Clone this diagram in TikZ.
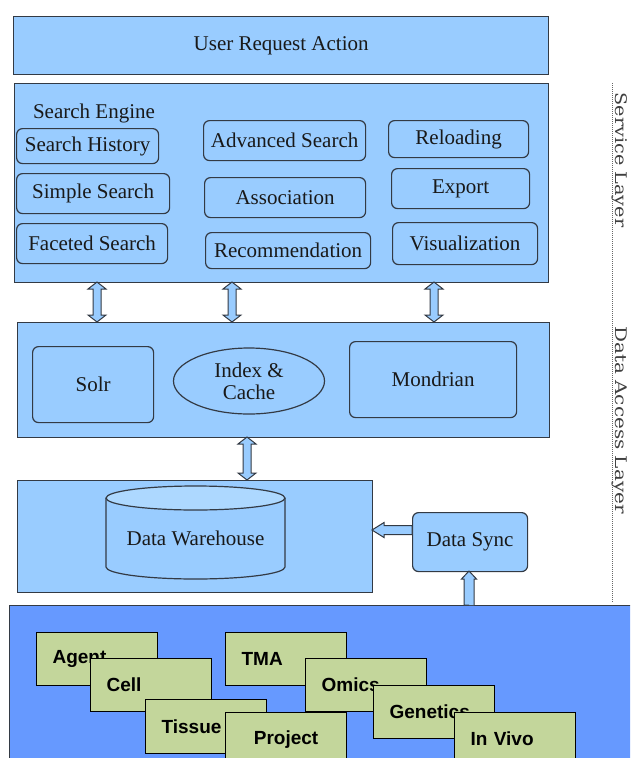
\documentclass[tikz,border=0pt]{standalone}
\usepackage{fontspec}
\setmainfont{Liberation Serif}
\setsansfont{Liberation Sans}
\newfontfamily\vfont{DejaVu Serif}
\usetikzlibrary{calc,shapes.geometric}
\definecolor{boxblue}{HTML}{99CCFF}
\definecolor{topblue}{HTML}{ADD8FF}
\definecolor{deepblue}{HTML}{6699FF}
\definecolor{olive}{HTML}{C3D69B}
\definecolor{edge}{HTML}{333A44}
\newcommand\vdarrow[2]{%
  \draw[blockarrow] (#1) -- ($(#1)+(9,-7)$) -- ($(#1)+(4,-7)$) -- ($(#2)+(4,7)$) -- ($(#2)+(9,7)$) -- (#2)
    -- ($(#2)+(-9,7)$) -- ($(#2)+(-4,7)$) -- ($(#1)+(-4,-7)$) -- ($(#1)+(-9,-7)$) -- cycle;}
\begin{document}
\begin{tikzpicture}[x=1pt,y=1pt,
  outerbox/.style={draw=edge,line width=1.3pt,fill=boxblue,rectangle,anchor=north west,inner sep=0pt},
  rbox/.style={draw=edge,line width=1.2pt,fill=boxblue,rounded corners=6pt,anchor=north west,inner sep=0pt,
    text=black!90,font=\fontsize{21}{25}\selectfont},
  gbox/.style={draw=black,line width=1.2pt,fill=olive,anchor=north west,minimum width=121pt,minimum height=53pt,
    text width=89pt,inner xsep=16pt,inner ysep=0pt,align=left,font=\sffamily\bfseries\fontsize{19}{22}\selectfont},
  blockarrow/.style={draw=edge,line width=1pt,fill=boxblue,line join=miter},
  serif21/.style={text=black!90,font=\fontsize{21}{25}\selectfont,inner sep=0pt},
  layertext/.style={rotate=-90,anchor=base,inner sep=0pt,text=black!75,font=\vfont\fontsize{16}{19}\selectfont}]
\useasboundingbox (0,0) rectangle (630,-758);
\clip (0,0) rectangle (630,-758);

% top box
\node[outerbox,minimum width=535pt,minimum height=58pt,serif21] (ura) at (13,-16) {User Request Action};

% service box
\node[outerbox,minimum width=534pt,minimum height=199pt] (se) at (14,-83) {};
\node[serif21] (selabel) at (94,-113) {Search Engine};
\node[rbox,minimum width=142pt,minimum height=35pt] (sh) at (16,-128) {Search History};
\node[rbox,minimum width=153pt,minimum height=40pt] (ss) at (16,-173) {Simple Search};
\node[rbox,minimum width=151pt,minimum height=40pt] (fs) at (16,-223) {Faceted Search};
\node[rbox,minimum width=162pt,minimum height=40pt] (as) at (203,-120) {Advanced Search};
\node[rbox,minimum width=161pt,minimum height=40pt] (asc) at (204,-177) {Association};
\node[rbox,minimum width=165pt,minimum height=36pt] (rec) at (205,-232) {Recommendation};
\node[rbox,minimum width=140pt,minimum height=37pt] (rel) at (388,-120) {Reloading};
\node[rbox,minimum width=138pt,minimum height=40pt] (exp) at (391,-168) {Export};
\node[rbox,minimum width=145pt,minimum height=42pt] (vis) at (392,-222) {Visualization};

% data access box
\node[outerbox,minimum width=532pt,minimum height=115pt] (da) at (17,-322) {};
\node[rbox,minimum width=121pt,minimum height=76pt] (solr) at (32,-346) {Solr};
\node[ellipse,draw=edge,line width=1.2pt,fill=boxblue,minimum width=151pt,minimum height=66pt,inner sep=0pt,
  align=center,text=black!90,font=\fontsize{21}{22}\selectfont] (idx) at (249,-381) {Index \&\\Cache};
\node[rbox,minimum width=167pt,minimum height=76pt] (mon) at (349,-341) {Mondrian};

% arrows service <-> data access
\coordinate (a1t) at (97,-282);  \coordinate (a1b) at (97,-322);
\coordinate (a2t) at (232,-282); \coordinate (a2b) at (232,-322);
\coordinate (a3t) at (434,-282); \coordinate (a3b) at (434,-322);
\vdarrow{a1t}{a1b}
\vdarrow{a2t}{a2b}
\vdarrow{a3t}{a3b}

% warehouse box
\node[outerbox,minimum width=355pt,minimum height=112pt] (wh) at (17,-480) {};
\coordinate (a4t) at (247,-437); \coordinate (a4b) at (247,-480);
\vdarrow{a4t}{a4b}
\fill[boxblue] (106,-498) -- (106,-567) arc[start angle=180,end angle=360,x radius=89.5,y radius=12] -- (285,-498) -- cycle;
\draw[edge,line width=1.2pt] (106,-498) -- (106,-567) arc[start angle=180,end angle=360,x radius=89.5,y radius=12] -- (285,-498);
\draw[edge,line width=1.2pt,fill=topblue] (195.5,-498) ellipse[x radius=89.5,y radius=12];
\node[serif21] (dwh) at (195.5,-538) {Data Warehouse};

% data sync
\node[rbox,minimum width=115pt,minimum height=59pt] (ds) at (412,-512) {Data Sync};
\coordinate (dl) at (372,-530); \coordinate (dr) at (412,-530);
\draw[blockarrow] (dl) -- ($(dl)+(12,7.5)$) -- ($(dl)+(12,4.5)$) -- ($(dr)+(0,4.5)$) -- ($(dr)+(0,-4.5)$)
  -- ($(dl)+(12,-4.5)$) -- ($(dl)+(12,-7.5)$) -- cycle;

% bottom box
\node[outerbox,fill=deepblue,minimum width=640pt,minimum height=170pt] (src) at (9,-605) {};
\coordinate (ut) at (469,-571); \coordinate (ub) at (469,-605);
\draw[blockarrow] (ub) -- ($(ub)+(-5,0)$) -- ($(ut)+(-5,-8)$) -- ($(ut)+(-7.5,-8)$) -- (ut)
  -- ($(ut)+(7.5,-8)$) -- ($(ut)+(5,-8)$) -- ($(ub)+(5,0)$);

\node[gbox] (agent) at (36,-632) {Agent};
\node[gbox] (tma) at (225,-632) {TMA};
\node[gbox] (cell) at (90,-658) {Cell};
\node[gbox] (omics) at (305,-658) {Omics};
\node[gbox,minimum height=54pt] (tissue) at (145,-699) {Tissue};
\node[gbox] (genetics) at (373,-685) {Genetics};
\node[gbox,align=center] (project) at (225,-712) {Project};
\node[gbox] (invivo) at (454,-712) {In Vivo};

% layer labels
\draw[black!60,line width=0.9pt,dash pattern=on 1pt off 1pt] (612,-83) -- (612,-603);
\node[layertext] (sl) at (615,-160) {\scalebox{1.2}[1]{Service Layer}};
\node[layertext] (dal) at (615,-420) {\scalebox{1.25}[1]{Data Access Layer}};
\end{tikzpicture}
\end{document}
